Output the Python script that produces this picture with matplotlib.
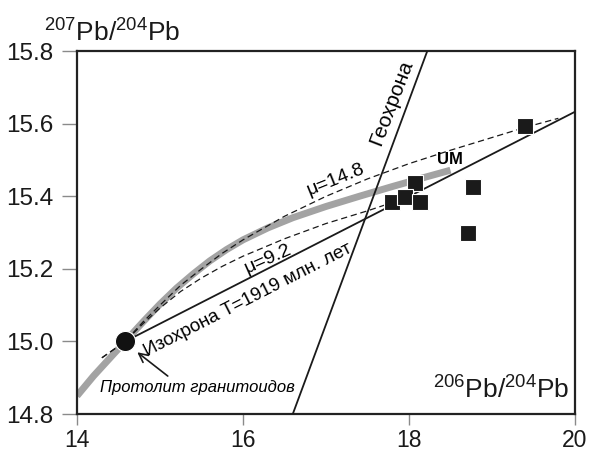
import numpy as np
import matplotlib
matplotlib.use('Agg')
import matplotlib.pyplot as plt

plt.rcParams['font.family'] = ['Liberation Sans', 'DejaVu Sans']
plt.rcParams['mathtext.fontset'] = 'custom'
plt.rcParams['mathtext.rm'] = 'Liberation Sans'
plt.rcParams['mathtext.it'] = 'Liberation Sans:italic'

# growth curve (grey band)
growth_x = [14.0, 14.2, 14.4, 14.58, 14.8, 15.0, 15.2, 15.4, 15.6, 15.8, 16.0,
            16.3, 16.6, 17.0, 17.4, 17.8, 18.2, 18.5]
growth_y = [14.85, 14.905, 14.955, 15.0, 15.055, 15.103, 15.147, 15.186, 15.222,
            15.253, 15.28, 15.313, 15.341, 15.372, 15.40, 15.427, 15.453, 15.472]

# mu = 14.8 curve
mu148_x = [14.3, 14.58, 14.8, 15.0, 15.25, 15.5, 15.75, 16.0, 16.5, 17.0, 17.5,
           18.0, 18.5, 19.0, 19.4, 19.8]
mu148_y = [14.955, 15.0, 15.055, 15.10, 15.155, 15.20, 15.243, 15.28, 15.345,
           15.40, 15.448, 15.49, 15.527, 15.562, 15.59, 15.615]

# mu = 9.2 curve
mu92_x = [14.3, 14.58, 14.8, 15.0, 15.25, 15.5, 15.75, 16.0, 16.5, 17.0, 17.5, 17.8]
mu92_y = [14.955, 15.0, 15.05, 15.092, 15.138, 15.175, 15.207, 15.235, 15.283,
          15.325, 15.36, 15.383]

# isochron T=1919 Ma and geochron
iso_x = [14.58, 20.0]
iso_y = [15.0, 15.633]
geo_x = [16.6, 18.22]
geo_y = [14.8, 15.8]

# protolith point and samples
proto_x, proto_y = 14.58, 15.0
samp_x = [19.40, 18.07, 17.80, 17.95, 18.13, 18.77, 18.71]
samp_y = [15.595, 15.438, 15.384, 15.397, 15.384, 15.427, 15.30]

fig = plt.figure(figsize=(5.9, 4.57), dpi=100)
ax = fig.add_axes([0.1305, 0.094, 0.844, 0.794])

ax.plot(growth_x, growth_y, color='#a3a3a3', lw=5, solid_capstyle='butt',
        solid_joinstyle='round', zorder=2)
ax.plot(mu148_x, mu148_y, color='#1a1a1a', lw=0.9, ls=(0, (5, 3)), zorder=3)
ax.plot(mu92_x, mu92_y, color='#1a1a1a', lw=0.9, ls=(0, (5, 3)), zorder=3)
ax.plot(iso_x, iso_y, color='#1a1a1a', lw=1.3, zorder=3)
ax.plot(geo_x, geo_y, color='#1a1a1a', lw=1.3, zorder=3)

ax.plot(samp_x, samp_y, 's', ms=11.5, color='#1a1a1a', mec='white', mew=0.8, zorder=5)
ax.plot([proto_x], [proto_y], 'o', ms=14.5, color='#111111', mec='white', mew=0.8, zorder=6)

ax.set_xlim(14, 20)
ax.set_ylim(14.8, 15.8)
ax.set_xticks([14, 16, 18, 20])
ax.set_yticks([14.8, 15.0, 15.2, 15.4, 15.6, 15.8])
ax.set_yticklabels(['14.8', '15.0', '15.2', '15.4', '15.6', '15.8'])
ax.tick_params(axis='y', direction='out', length=11, width=1, color='#8a8a8a',
               labelsize=17.5, labelcolor='#1a1a1a', pad=6)
ax.tick_params(axis='x', direction='out', length=8, width=1, color='#8a8a8a',
               labelsize=16.5, labelcolor='#1a1a1a', pad=3)
for s in ax.spines.values():
    s.set_linewidth(1.6)
    s.set_color('#222222')

ax.text(0.075, 0.958, r'$^{207}$Pb/$^{204}$Pb', transform=fig.transFigure,
        fontsize=19, ha='left', va='top', color='#1a1a1a')
ax.text(19.93, 14.83, r'$^{206}$Pb/$^{204}$Pb', fontsize=19, ha='right', va='bottom',
        color='#1a1a1a')

ax.text(17.795, 15.657, 'Геохрона', rotation=69, fontsize=15, ha='center', va='center')
ax.text(17.12, 15.445, 'μ=14.8', rotation=22, fontsize=14, ha='center', va='center')
ax.text(16.30, 15.226, 'μ=9.2', rotation=24, fontsize=14, ha='center', va='center')
ax.text(16.06, 15.113, 'Изохрона Т=1919 млн. лет', rotation=27, fontsize=13.5,
        ha='center', va='center')
ax.text(18.49, 15.502, 'UM', fontsize=12, fontweight='bold', ha='center', va='center')
ax.text(15.45, 14.873, 'Протолит гранитоидов', fontsize=12, style='italic',
        ha='center', va='center')
ax.annotate('', xy=(14.70, 14.975), xytext=(15.12, 14.90),
            arrowprops=dict(arrowstyle='->', color='#1a1a1a', lw=1.2,
                            mutation_scale=16))

fig.savefig('out.png', dpi=100)
